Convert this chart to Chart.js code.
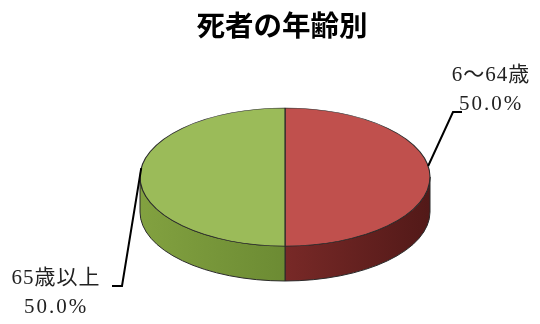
<!DOCTYPE html>
<html>
<head>
<meta charset="utf-8">
<script src="https://cdn.jsdelivr.net/npm/chart.js@4"></script>
<style>
  body { margin: 0; background: #fff; }
</style>
</head>
<body>
<canvas id="pieChart" width="540" height="324"></canvas>
<script>
// data
var categories = ['6～64歳', '65歳以上'];
var values = [50.0, 50.0];
var chartTitle = '死者の年齢別';

// colours for the top and the side of each slice
var topColors = ['#C0504D', '#9BBB59'];
var sideColors = [['#782927', '#521918'], ['#82A140', '#6C8B33']];

// where the flattened pie sits on the page
var E = { cx: 285, cy: 177, rx: 145, ry: 69, depth: 35 };

// label boxes and leader line bends
var labelSpots = [
  { x: 491, y: 75, bend: [453, 112], end: [462, 112], lift: -0.16 },
  { x: 56, y: 278, bend: [122, 286], end: [112, 286], lift: 0.13 }
];

function toEllipse(ctx, arc) {
  ctx.translate(E.cx, E.cy);
  ctx.scale(E.rx / arc.outerRadius, E.ry / arc.outerRadius);
  ctx.translate(-arc.x, -arc.y);
}

var pie3d = {
  id: 'pie3d',
  beforeDatasetsDraw: function(chart) {
    var ctx = chart.ctx;
    var meta = chart.getDatasetMeta(0);
    // side walls, only the front half (angles 0..PI) is visible
    meta.data.forEach(function(arc, i) {
      var s = Math.max(arc.startAngle, 0);
      var e = Math.min(arc.endAngle, Math.PI);
      if (e <= s) return;
      var x1 = E.cx + E.rx * Math.cos(s), x2 = E.cx + E.rx * Math.cos(e);
      var grad = ctx.createLinearGradient(Math.min(x1, x2), 0, Math.max(x1, x2), 0);
      var c = sideColors[i];
      if (x1 > x2) { grad.addColorStop(0, c[0]); grad.addColorStop(1, c[1]); }
      else { grad.addColorStop(0, c[1]); grad.addColorStop(1, c[0]); }
      ctx.save();
      ctx.beginPath();
      ctx.ellipse(E.cx, E.cy, E.rx, E.ry, 0, s, e);
      ctx.ellipse(E.cx, E.cy + E.depth, E.rx, E.ry, 0, e, s, true);
      ctx.closePath();
      ctx.fillStyle = grad;
      ctx.fill();
      ctx.lineWidth = 1;
      ctx.strokeStyle = '#2a2a2a';
      ctx.stroke();
      ctx.restore();
    });
    // squash the top face into an ellipse
    ctx.save();
    toEllipse(ctx, meta.data[0]);
  },
  afterDatasetsDraw: function(chart) {
    chart.ctx.restore();
  },
  afterDraw: function(chart) {
    var ctx = chart.ctx;
    var meta = chart.getDatasetMeta(0);
    var total = values.reduce(function(a, b) { return a + b; }, 0);
    meta.data.forEach(function(arc, i) {
      var spot = labelSpots[i];
      var mid = (arc.startAngle + arc.endAngle) / 2 + spot.lift;
      var ax = E.cx + E.rx * Math.cos(mid);
      var ay = E.cy + E.ry * Math.sin(mid);
      ctx.save();
      ctx.beginPath();
      ctx.moveTo(ax, ay);
      ctx.lineTo(spot.bend[0], spot.bend[1]);
      ctx.lineTo(spot.end[0], spot.end[1]);
      ctx.lineWidth = 2;
      ctx.strokeStyle = '#000';
      ctx.stroke();
      ctx.fillStyle = '#222';
      ctx.textAlign = 'center';
      ctx.textBaseline = 'middle';
      ctx.font = '21px "Liberation Serif", "Noto Sans CJK JP", serif';
      ctx.letterSpacing = '1px';
      ctx.fillText(categories[i], spot.x, spot.y);
      ctx.letterSpacing = '2px';
      ctx.fillText((values[i] / total * 100).toFixed(1) + '%', spot.x, spot.y + 29);
      ctx.restore();
    });
  }
};

var ctx1 = document.getElementById('pieChart').getContext('2d');
var pieChart = new Chart(ctx1, {
  type: 'pie',
  data: {
    labels: categories,
    datasets: [{
      data: values,
      backgroundColor: topColors,
      borderColor: '#2a2a2a',
      borderWidth: 1,
      clip: false
    }]
  },
  options: {
    responsive: false,
    animation: false,
    layout: { padding: { left: 132, right: 108, bottom: 20 } },
    plugins: {
      legend: { display: false },
      tooltip: { enabled: false },
      title: {
        display: true,
        text: chartTitle,
        color: '#000',
        font: { family: '"Noto Sans CJK JP", sans-serif', size: 28.5, weight: 'bold' },
        padding: { top: 8, bottom: 10 }
      }
    }
  },
  plugins: [pie3d]
});
</script>
</body>
</html>
